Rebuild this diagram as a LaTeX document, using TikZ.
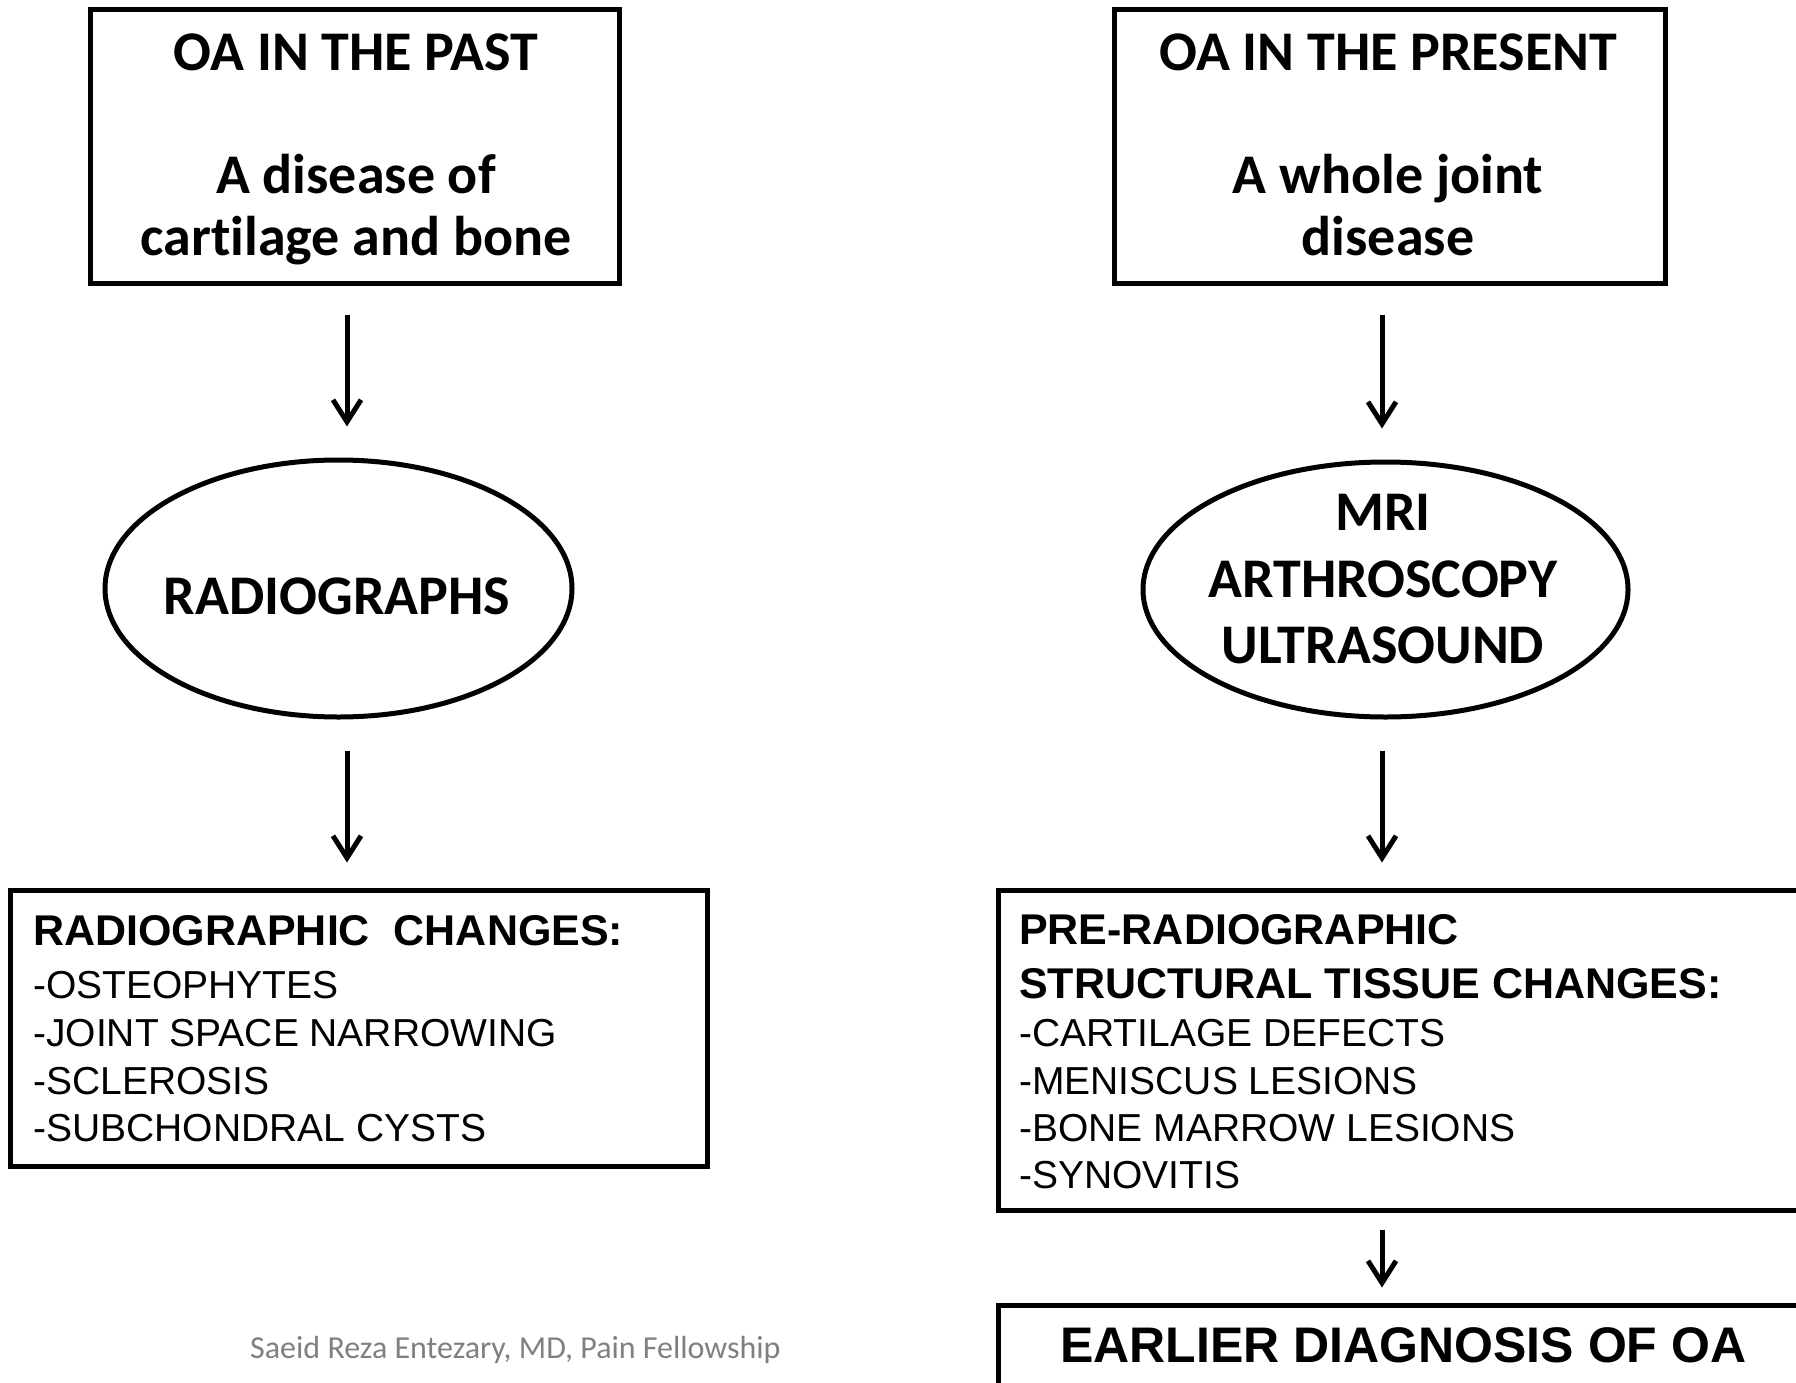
\documentclass[tikz,border=0pt]{standalone}
\usepackage{fontspec}
\setmainfont{Liberation Sans}
\newfontfamily\calibri[Ligatures={NoCommon}]{Carlito}
\usetikzlibrary{arrows.meta,shapes.geometric}
\begin{document}
\begin{tikzpicture}[x=1pt,y=-1pt,
  box/.style={draw, line width=5pt, rectangle, inner sep=0pt},
  oval/.style={draw, line width=5pt, ellipse, inner sep=0pt},
  arr/.style={-{Straight Barb[length=22pt,width=28pt,line width=5pt]}, line width=5pt},
  cal/.style={font=\calibri\bfseries\fontsize{56}{66}\selectfont, anchor=base, inner sep=0pt},
  hd/.style={font=\bfseries\fontsize{43}{50}\selectfont, anchor=base west, inner sep=0pt},
  itm/.style={font=\fontsize{39}{47}\selectfont, anchor=base west, inner sep=0pt},
  foot/.style={font=\calibri\fontsize{32}{38}\selectfont, text=black!50, anchor=base west, inner sep=0pt}]
\useasboundingbox (0,0) rectangle (1796,1383);
\fill[white] (0,0) rectangle (1796,1383);
\clip (0,0) rectangle (1796,1383);

\coordinate (xl) at (347,0);
\coordinate (xr) at (1382,0);

% boxes and ellipses
\node[box, minimum width=529pt, minimum height=273pt] (b1) at (354.5,146.5) {};
\node[box, minimum width=551pt, minimum height=273pt] (b2) at (1389.5,146.5) {};
\node[oval, minimum width=467pt, minimum height=257pt] (e1) at (338.5,588.5) {};
\node[oval, minimum width=485pt, minimum height=255pt] (e2) at (1385.5,589.5) {};
\node[box, minimum width=697pt, minimum height=276pt] (b3) at (358.5,1028) {};
\node[box, minimum width=832pt, minimum height=320pt] (b4) at (1414,1050) {};
\node[box, minimum width=832pt, minimum height=115pt] (b5) at (1414,1362.5) {};

% texts top boxes
\node[cal] (t1a) at (356,71) {OA IN THE PAST};
\node[cal] (t1b) at (356,194) {A disease of};
\node[cal] (t1c) at (356,255) {cartilage and bone};
\node[cal] (t2a) at (1388,71) {OA IN THE PRESENT};
\node[cal] (t2b) at (1388,194) {A whole joint};
\node[cal] (t2c) at (1388,255) {disease};

% ellipse texts
\node[cal] (te1) at (337,614) {RADIOGRAPHS};
\node[cal] (te2a) at (1383,530) {MRI};
\node[cal] (te2b) at (1383,597) {ARTHROSCOPY};
\node[cal] (te2c) at (1383,663) {ULTRASOUND};

% left list
\node[hd] (h3) at (33,945) {RADIOGRAPHIC~ CHANGES:};
\node[itm] (i3a) at (33,998) {-OSTEOPHYTES};
\node[itm] (i3b) at (33,1046) {-JOINT SPACE NARROWING};
\node[itm] (i3c) at (33,1094) {-SCLEROSIS};
\node[itm] (i3d) at (33,1141) {-SUBCHONDRAL CYSTS};

% right list
\node[hd] (h4a) at (1019,944) {PRE-RADIOGRAPHIC};
\node[hd] (h4b) at (1019,998) {STRUCTURAL TISSUE CHANGES:};
\node[itm] (i4a) at (1019,1046) {-CARTILAGE DEFECTS};
\node[itm] (i4b) at (1019,1094) {-MENISCUS LESIONS};
\node[itm] (i4c) at (1019,1141) {-BONE MARROW LESIONS};
\node[itm] (i4d) at (1019,1188) {-SYNOVITIS};

% last box
\node[font=\bfseries\fontsize{50}{60}\selectfont, anchor=base west, inner sep=0pt] (t5) at (1060,1362) {EARLIER DIAGNOSIS OF OA};

% footer
\node[foot] (ft) at (250,1358) {Saeid Reza Entezary, MD, Pain Fellowship};

% arrows
\draw[arr, shorten <=29pt, shorten >=31pt] (b1.south -| xl) -- (e1.north -| xl);
\draw[arr, shorten <=29pt, shorten >=31pt] (b2.south -| xr) -- (e2.north -| xr);
\draw[arr, shorten <=31pt, shorten >=25pt] (e1.south -| xl) -- (b3.north -| xl);
\draw[arr, shorten <=31pt, shorten >=25pt] (e2.south -| xr) -- (b4.north -| xr);
\draw[arr, shorten <=17pt, shorten >=15pt] (b4.south -| xr) -- (b5.north -| xr);
\end{tikzpicture}
\end{document}
